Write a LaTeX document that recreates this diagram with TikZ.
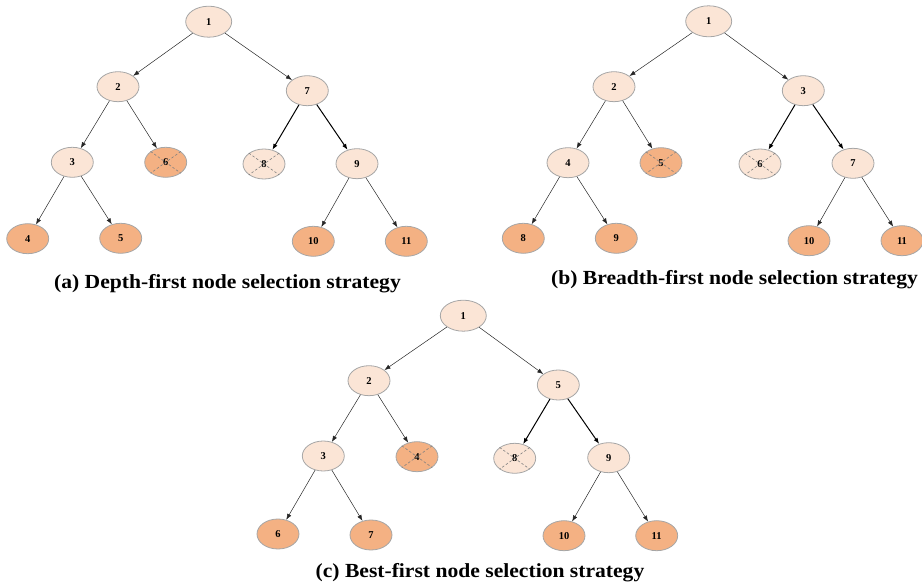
\documentclass[tikz,border=0pt]{standalone}
\usepackage{fontspec}
\setmainfont{Liberation Serif}
\newfontfamily\capfont[FakeStretch=1.08]{Liberation Serif}
\usetikzlibrary{arrows.meta,shapes.geometric}
\definecolor{nodelight}{HTML}{FBE5D6}
\definecolor{nodedark}{HTML}{F4B183}
\definecolor{nodeline}{HTML}{A6A6A6}
\begin{document}
\begin{tikzpicture}[x=1pt,y=-1pt,
  bbnode/.style={ellipse, draw=nodeline, line width=0.8pt, minimum width=42pt,
    minimum height=30pt, inner sep=0pt, font=\fontsize{10.5}{12}\selectfont\bfseries},
  open/.style={bbnode, fill=nodelight},
  leaf/.style={bbnode, fill=nodedark},
  rootnode/.style={open, minimum width=46pt, minimum height=31pt},
  tedge/.style={-{Latex[length=6pt,width=4.5pt]}, line width=0.5pt, draw=black!85},
  bedge/.style={tedge, line width=1pt, draw=black},
  cross/.style={draw=gray, dash pattern=on 2.5pt off 2pt, line width=0.6pt},
  caption/.style={anchor=base, font=\capfont\fontsize{20}{22}\selectfont\bfseries}
]
\useasboundingbox (0,0) rectangle (922,585);

% ---------- (a) depth-first ----------
\node[rootnode] (a1) at (208.7,21.7) {1};
\node[open] (a2) at (118,86.7) {2};
\node[open] (a7) at (307.3,90.7) {7};
\node[open] (a3) at (72.3,162.3) {3};
\node[leaf] (a6) at (165.7,162.3) {6};
\node[open] (a8) at (264,164) {8};
\node[open] (a9) at (357,163.7) {9};
\node[leaf] (a4) at (27.7,238.7) {4};
\node[leaf] (a5) at (120.7,238.3) {5};
\node[leaf] (a10) at (313.3,241.3) {10};
\node[leaf] (a11) at (406.3,241.3) {11};
\draw[tedge] (a1) -- (a2);
\draw[tedge] (a1) -- (a7);
\draw[tedge] (a2) -- (a3);
\draw[tedge] (a2) -- (a6);
\draw[bedge] (a7) -- (a8);
\draw[bedge] (a7) -- (a9);
\draw[tedge] (a3) -- (a4);
\draw[tedge] (a3) -- (a5);
\draw[tedge] (a9) -- (a10);
\draw[tedge] (a9) -- (a11);
\foreach \n in {a6,a8}
  \draw[cross] (\n.north west) -- (\n.south east) (\n.north east) -- (\n.south west);
\node[caption] (capa) at (227.5,288.7) {(a) Depth-first node selection strategy};

% ---------- (b) breadth-first ----------
\node[rootnode] (b1) at (708.7,21.3) {1};
\node[open] (b2) at (614,86.7) {2};
\node[open] (b3) at (803.3,90.7) {3};
\node[open] (b4) at (568,162.7) {4};
\node[leaf] (b5) at (661,162.7) {5};
\node[open] (b6) at (760,164) {6};
\node[open] (b7) at (853,163.3) {7};
\node[leaf] (b8) at (523.3,238.3) {8};
\node[leaf] (b9) at (616.3,238.3) {9};
\node[leaf] (b10) at (809,240.7) {10};
\node[leaf] (b11) at (902,240.7) {11};
\draw[tedge] (b1) -- (b2);
\draw[tedge] (b1) -- (b3);
\draw[tedge] (b2) -- (b4);
\draw[tedge] (b2) -- (b5);
\draw[bedge] (b3) -- (b6);
\draw[bedge] (b3) -- (b7);
\draw[tedge] (b4) -- (b8);
\draw[tedge] (b4) -- (b9);
\draw[tedge] (b7) -- (b10);
\draw[tedge] (b7) -- (b11);
\foreach \n in {b5,b6}
  \draw[cross] (\n.north west) -- (\n.south east) (\n.north east) -- (\n.south west);
\node[caption] (capb) at (734.5,285) {(b) Breadth-first node selection strategy};

% ---------- (c) best-first ----------
\node[rootnode] (c1) at (463.3,315.7) {1};
\node[open] (c2) at (369,380.7) {2};
\node[open] (c5) at (558.3,385) {5};
\node[open] (c3) at (323.3,456) {3};
\node[leaf] (c4) at (417,456.7) {4};
\node[open] (c8) at (514.7,458.3) {8};
\node[open] (c9) at (608.7,457.7) {9};
\node[leaf] (c6) at (278,534) {6};
\node[leaf] (c7) at (371,535) {7};
\node[leaf] (c10) at (564,535.7) {10};
\node[leaf] (c11) at (656.7,535.7) {11};
\draw[tedge] (c1) -- (c2);
\draw[tedge] (c1) -- (c5);
\draw[tedge] (c2) -- (c3);
\draw[tedge] (c2) -- (c4);
\draw[bedge] (c5) -- (c8);
\draw[bedge] (c5) -- (c9);
\draw[tedge] (c3) -- (c6);
\draw[tedge] (c3) -- (c7);
\draw[tedge] (c9) -- (c10);
\draw[tedge] (c9) -- (c11);
\foreach \n in {c4,c8}
  \draw[cross] (\n.north west) -- (\n.south east) (\n.north east) -- (\n.south west);
\node[caption] (capc) at (480,577.3) {(c) Best-first node selection strategy};
\end{tikzpicture}
\end{document}
